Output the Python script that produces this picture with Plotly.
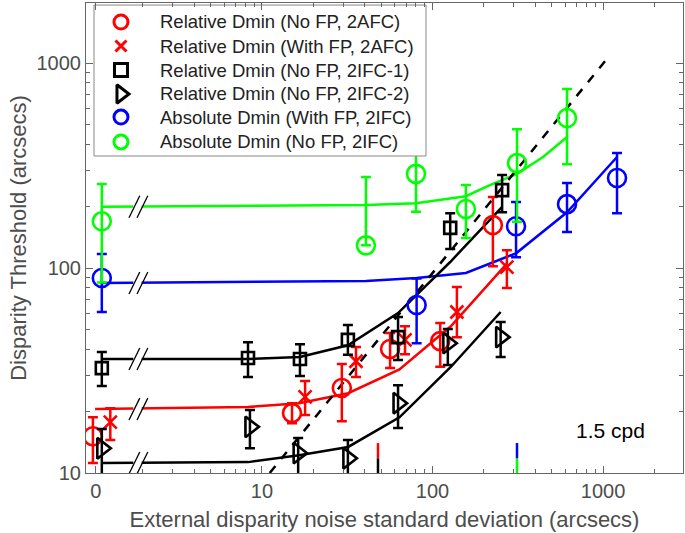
import plotly.graph_objects as go

# ---------------- data ----------------
ZERO_X = 1.15          # where the "0 noise" condition is drawn on the log axis
ZERO_TICK = 1.06

red_circ_x = [1.02, 15.0, 29.4, 56.4, 111, 226]
red_circ_y = [15.1, 19.6, 26.0, 40.3, 44.0, 162]
red_circ_hi = [18.7, 21.9, 34.0, 48.2, 54.0, 222]
red_circ_lo = [11.2, 17.5, 17.9, 32.5, 33.0, 102]

red_x_x = [1.29, 17.9, 35.6, 69, 139, 273]
red_x_y = [17.7, 23.5, 35.1, 44.6, 61.0, 101]
red_x_hi = [20.7, 28.1, 41.2, 52.0, 80.7, 122]
red_x_lo = [14.5, 19.2, 29.4, 38.0, 46.0, 80]

sq_x = [ZERO_X, 8.28, 16.7, 31.9, 62.8, 127, 256]
sq_y = [32.5, 36.4, 36.0, 44.6, 46.0, 157, 240]
sq_hi = [38.9, 43.5, 42.5, 52.7, 57.7, 185, 284]
sq_lo = [26.6, 29.4, 29.7, 37.7, 35.6, 124, 187]

tri_x = [ZERO_X, 8.5, 16.3, 31.9, 62.8, 123, 251]
tri_y = [13.2, 16.8, 12.5, 11.8, 21.9, 43.0, 46.0]
tri_hi = [16.4, 20.3, 14.8, 14.5, 26.8, 50.4, 54.6]
tri_lo = [9.5, 13.2, 9.5, 9.5, 16.6, 33.6, 36.8]

blue_x = [ZERO_X, 80.7, 309, 615, 1208]
blue_y = [89.4, 66.0, 160, 205, 275]
blue_hi = [117, 89, 210, 260, 364]
blue_lo = [61, 43, 113, 150, 185]

green_x = [ZERO_X, 40.7, 80, 157, 313, 615]
green_y = [169, 129, 288, 194, 325, 539]
green_hi = [257, 278, 441, 254, 476, 747]
green_lo = [85, 129, 188, 140, 168, 321]

# model fits
green_fit_x = [ZERO_X, 40.7, 80, 157, 217, 313, 445, 615]
green_fit_y = [199, 203, 207, 224, 254, 288, 348, 436]
blue_fit_x = [ZERO_X, 40.7, 80.7, 157, 309, 615, 1208]
blue_fit_y = [84.5, 86.5, 89.4, 94.6, 118, 187, 348]
sq_fit_x = [ZERO_X, 8.28, 16.7, 31.9, 62.8, 127, 256]
sq_fit_y = [36.0, 36.0, 36.8, 42.0, 60.3, 107, 199]
red_fit_x = [1.05, 8.3, 16.5, 32, 64, 128, 273]
red_fit_y = [20.5, 21.0, 21.9, 24.5, 32.0, 52.0, 105]
tri_fit_x = [ZERO_X, 8.3, 16.5, 32, 64, 128, 251]
tri_fit_y = [11.2, 11.3, 12.2, 13.4, 18.7, 32.9, 61]

dash_x = [11.1, 1100]
dash_y = [10.0, 1095]

# small coloured marks on the bottom axis
mark_x = [47.9, 313]
mark_top_colors = ["#FF0000", "#0000FF"]
mark_bot_colors = ["black", "#00FF00"]
mark_levels = [10.0, 11.8, 14.0]

x_tickvals = [ZERO_TICK, 10, 100, 1000]
x_ticktext = ["0", "10", "100", "1000"]
y_tickvals = [10, 100, 1000]
y_ticktext = ["10", "100", "1000"]

legend_names = ["Relative Dmin (No FP, 2AFC)", "Relative Dmin (With FP, 2AFC)",
                "Relative Dmin (No FP, 2IFC-1)", "Relative Dmin (No FP, 2IFC-2)",
                "Absolute Dmin (With FP, 2IFC)", "Absolute Dmin (No FP, 2IFC)"]

RED, BLUE, GREEN, BLACK = "#FF0000", "#0000FF", "#00FF00", "black"

fig = go.Figure()

def errs(y, hi, lo):
    return ([h - v for v, h in zip(y, hi)], [v - l for v, l in zip(y, lo)])

# fit lines
for fx, fy, c in [(green_fit_x, green_fit_y, GREEN), (blue_fit_x, blue_fit_y, BLUE),
                  (sq_fit_x, sq_fit_y, BLACK), (red_fit_x, red_fit_y, RED),
                  (tri_fit_x, tri_fit_y, BLACK)]:
    fig.add_trace(go.Scatter(x=fx, y=fy, mode="lines", line=dict(color=c, width=2.5),
                             showlegend=False, hoverinfo="skip"))

# axis-break marks "//"
BR_GAP = (1.76, 1.97)
BR_S1 = (1.66, 1.92)
BR_S2 = (1.85, 2.14)
F = 1.131
for fy in [green_fit_y[0], blue_fit_y[0], sq_fit_y[0], red_fit_y[0], tri_fit_y[0]]:
    fig.add_trace(go.Scatter(x=list(BR_GAP), y=[fy, fy], mode="lines",
                             line=dict(color="white", width=5), showlegend=False,
                             hoverinfo="skip", cliponaxis=False))
    fig.add_trace(go.Scatter(x=[BR_S1[0], BR_S1[1], None, BR_S2[0], BR_S2[1]],
                             y=[fy / F, fy * F, None, fy / F, fy * F], mode="lines",
                             line=dict(color="black", width=1.3), showlegend=False,
                             hoverinfo="skip", cliponaxis=False))

# dashed reference line
fig.add_trace(go.Scatter(x=dash_x, y=dash_y, mode="lines",
                         line=dict(color="black", width=2.5, dash="dash"),
                         showlegend=False, hoverinfo="skip"))

# bottom coloured marks
for mx, ct, cb in zip(mark_x, mark_top_colors, mark_bot_colors):
    fig.add_trace(go.Scatter(x=[mx, mx], y=[mark_levels[0], mark_levels[1]], mode="lines",
                             line=dict(color=cb, width=2.5), showlegend=False, hoverinfo="skip"))
    fig.add_trace(go.Scatter(x=[mx, mx], y=[mark_levels[1], mark_levels[2]], mode="lines",
                             line=dict(color=ct, width=2.5), showlegend=False, hoverinfo="skip"))

series = [
    (red_circ_x, red_circ_y, red_circ_hi, red_circ_lo, RED, "circle-open", 18, 14),
    (red_x_x, red_x_y, red_x_hi, red_x_lo, RED, "x-thin-open", 13, 11),
    (sq_x, sq_y, sq_hi, sq_lo, BLACK, "square-open", 12, 13),
    (tri_x, tri_y, tri_hi, tri_lo, BLACK, "triangle-right-open", 18, 16),
    (blue_x, blue_y, blue_hi, blue_lo, BLUE, "circle-open", 18, 14),
    (green_x, green_y, green_hi, green_lo, GREEN, "circle-open", 18, 14),
]

for name, (x, y, hi, lo, color, symbol, size, _) in zip(legend_names, series):
    up, dn = errs(y, hi, lo)
    fig.add_trace(go.Scatter(
        x=x, y=y, name=name, mode="markers", showlegend=False,
        marker=dict(symbol=symbol, size=size, color=color,
                    line=dict(color=color, width=2.6)),
        error_y=dict(type="data", symmetric=False, array=up, arrayminus=dn,
                     color=color, thickness=2.5, width=5),
    ))

# ---- legend box drawn on an overlay subplot (unit coordinates = plot area) ----
LEG_X0, LEG_X1, LEG_Y0, LEG_Y1 = 0.0134, 0.5695, 0.6745, 0.9957
LEG_SYM_X, LEG_TXT_X = 0.0586, 0.1206
LEG_ROW_Y = [0.9596, 0.9085, 0.8574, 0.8064, 0.7574, 0.7043]
fig.add_trace(go.Scatter(x=[LEG_X0, LEG_X1, LEG_X1, LEG_X0, LEG_X0],
                         y=[LEG_Y0, LEG_Y0, LEG_Y1, LEG_Y1, LEG_Y0],
                         mode="lines", fill="toself", fillcolor="white",
                         line=dict(color="#888888", width=1),
                         xaxis="x2", yaxis="y2", showlegend=False, hoverinfo="skip"))
for (x, y, hi, lo, color, symbol, size, lsize), ry in zip(series, LEG_ROW_Y):
    fig.add_trace(go.Scatter(x=[LEG_SYM_X], y=[ry], mode="markers",
                             marker=dict(symbol=symbol, size=lsize, color=color,
                                         line=dict(color=color, width=3)),
                             xaxis="x2", yaxis="y2", showlegend=False, hoverinfo="skip"))
for name, ry in zip(legend_names, LEG_ROW_Y):
    fig.add_annotation(text=name, xref="paper", yref="paper", x=LEG_TXT_X, y=ry,
                       xanchor="left", yanchor="middle", showarrow=False,
                       font=dict(size=18.5, color="#222222",
                                 family="Liberation Sans, Arial, sans-serif"))

AX = "#666666"
TXT = "#4d4d4d"
FONT = "Liberation Sans, Arial, sans-serif"

x_minor = [m * 10 ** e for e in range(0, 4) for m in range(2, 10)]
y_minor = [m * 10 ** e for e in range(1, 4) for m in range(2, 10)]

fig.update_layout(
    xaxis=dict(type="log", range=[-0.032, 3.469], tickmode="array",
               tickvals=x_tickvals, ticktext=x_ticktext,
               ticks="inside", ticklen=7, tickcolor=AX, tickwidth=1,
               minor=dict(tickmode="array", tickvals=x_minor, ticks="inside",
                          ticklen=4, tickcolor=AX, showgrid=False),
               showline=True, linecolor=AX, linewidth=1, mirror="ticks",
               showgrid=False, zeroline=False, automargin=False,
               tickfont=dict(size=20, color=TXT, family=FONT),
               title=dict(text="External disparity noise standard deviation (arcsecs)",
                          font=dict(size=22, color=TXT, family=FONT), standoff=10)),
    yaxis=dict(type="log", range=[1, 3.293], tickmode="array",
               tickvals=y_tickvals, ticktext=y_ticktext,
               ticks="inside", ticklen=7, tickcolor=AX, tickwidth=1,
               minor=dict(tickmode="array", tickvals=y_minor, ticks="inside",
                          ticklen=4, tickcolor=AX, showgrid=False),
               showline=True, linecolor=AX, linewidth=1, mirror="ticks",
               showgrid=False, zeroline=False, automargin=False,
               tickfont=dict(size=20, color=TXT, family=FONT),
               title=dict(text="Disparity Threshold (arcsecs)",
                          font=dict(size=22, color=TXT, family=FONT), standoff=3)),
    xaxis2=dict(overlaying="x", range=[0, 1], visible=False, fixedrange=True),
    yaxis2=dict(overlaying="y", range=[0, 1], visible=False, fixedrange=True),
)

fig.add_annotation(text="1.5 cpd", xref="paper", yref="paper", x=0.878, y=0.0894,
                   xanchor="center", yanchor="middle",
                   showarrow=False, font=dict(size=21, color="black", family=FONT))

fig.update_layout(
    width=685, height=533, autosize=False,
    margin=dict(l=86, r=2, t=3, b=60, autoexpand=False),
    paper_bgcolor="white", plot_bgcolor="white",
    font=dict(family=FONT),
    showlegend=False,
)

fig.write_html(
    "out.html",
    config={"responsive": False, "displayModeBar": False},
    post_script="document.body.style.margin='0px';document.body.style.overflow='hidden';",
)
